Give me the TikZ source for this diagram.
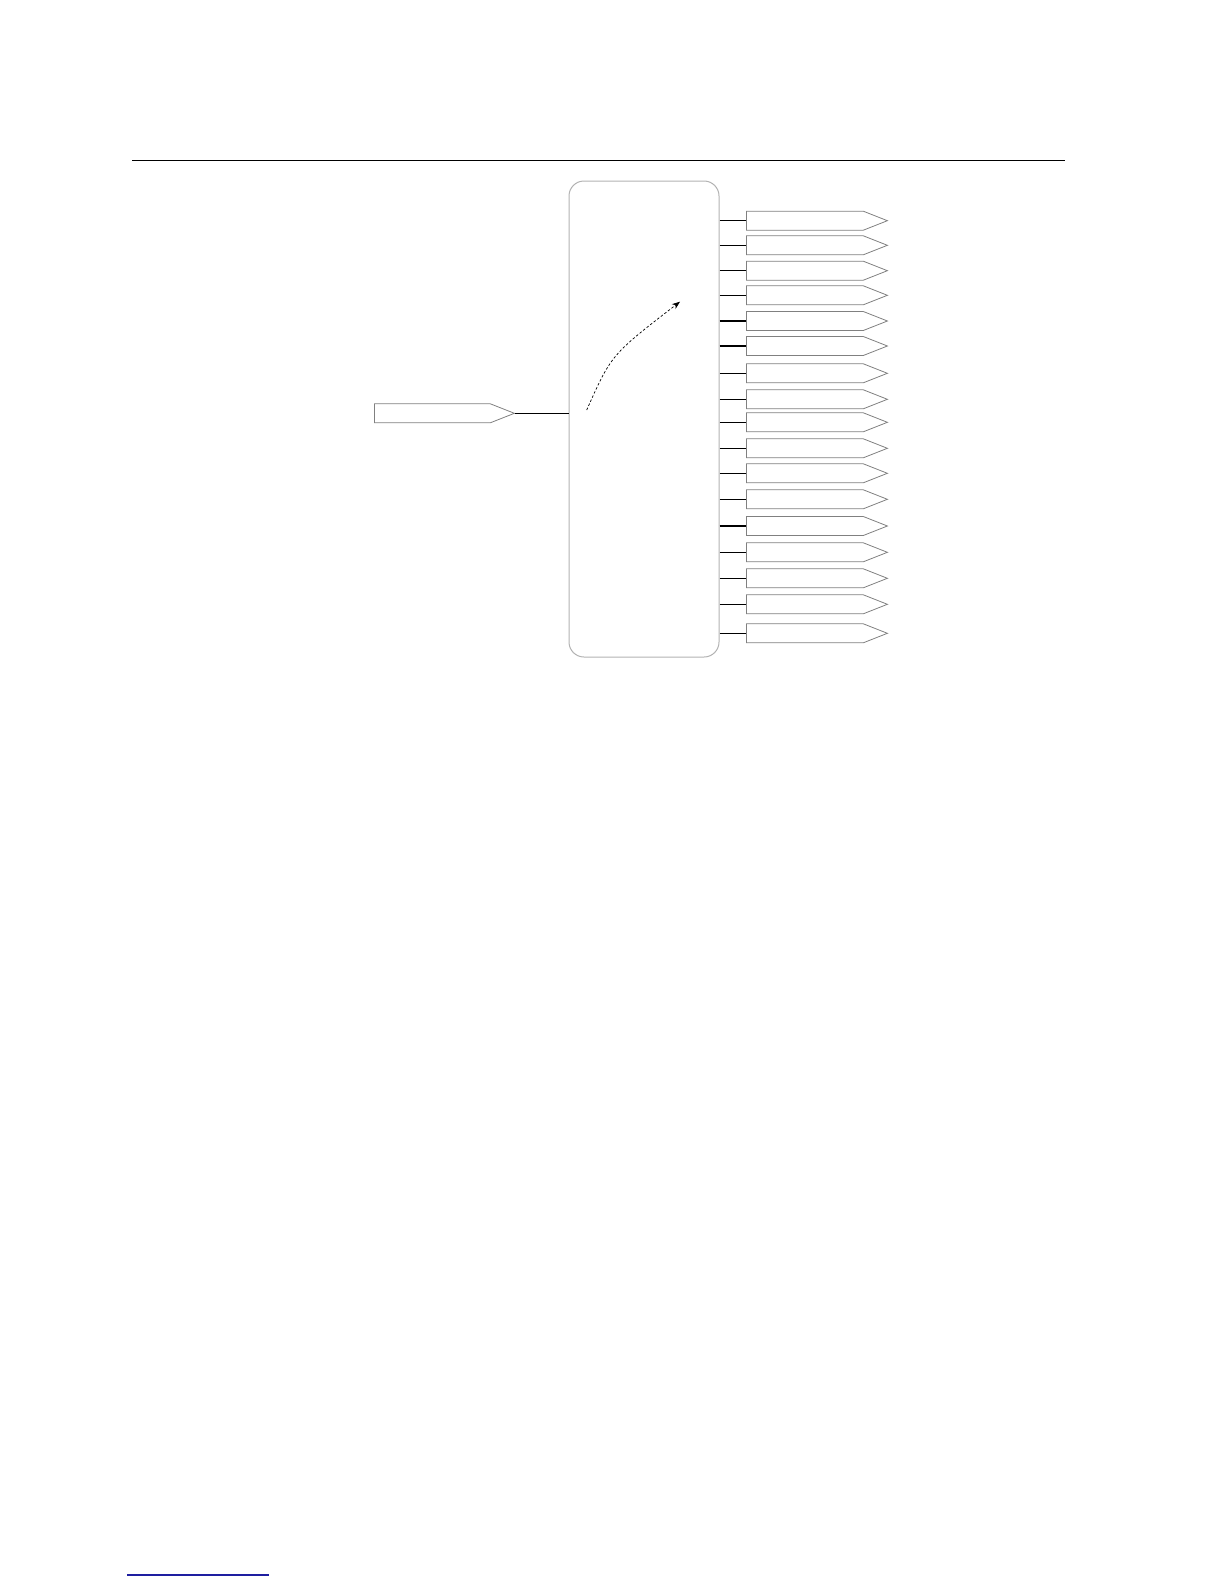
\documentclass[tikz,border=0pt]{standalone}
\usetikzlibrary{shapes.symbols,shapes.arrows,arrows.meta}
\begin{document}
\begin{tikzpicture}[x=1pt,y=-1pt,
  pent/.style={signal, signal to=east, draw=black!50, line width=0.8pt, inner sep=0pt,
    minimum height=19pt, signal pointer angle=43, anchor=west},
  outpent/.style={pent, minimum width=141pt},
  wire/.style={draw=black, line width=1.1pt},
  mainbox/.style={draw=black!30, line width=1pt, rounded corners=15pt, minimum width=150pt, minimum height=476pt, inner sep=0pt}
]
\useasboundingbox (0,0) rectangle (1224,1584);
\draw[line width=1.3pt] (132,160.7) -- (1065,160.7);
\draw[draw={rgb,255:red,30;green,30;blue,160}, line width=1.2pt] (127,1575) -- (269,1575);

\node[mainbox] (box) at (644,419) {};

\node[pent, minimum width=140pt] (in) at (374,413.3) {};
\draw[wire] (in.east) -- (in.east -| box.west);

\foreach \i/\y in {1/220.7,2/245.3,3/270.7,4/295.3,5/321,6/346,7/373.3,8/399.3,9/422.3,10/448.3,11/473.3,12/499.3,13/526,14/552.3,15/578.3,16/604.3,17/633.3}{
  \node[outpent] (o\i) at (746,\y) {};
  \draw[wire] (o\i.west -| box.east) -- (o\i.west);
}

\coordinate (as) at (586.7,410);
\coordinate (ae) at (680,301.7);
\draw[dash pattern=on 2.5pt off 2pt, line width=0.7pt, -{Stealth[length=8pt,width=6pt]}] (as) .. controls (611.3,354.7) .. (ae);
\end{tikzpicture}
\end{document}
